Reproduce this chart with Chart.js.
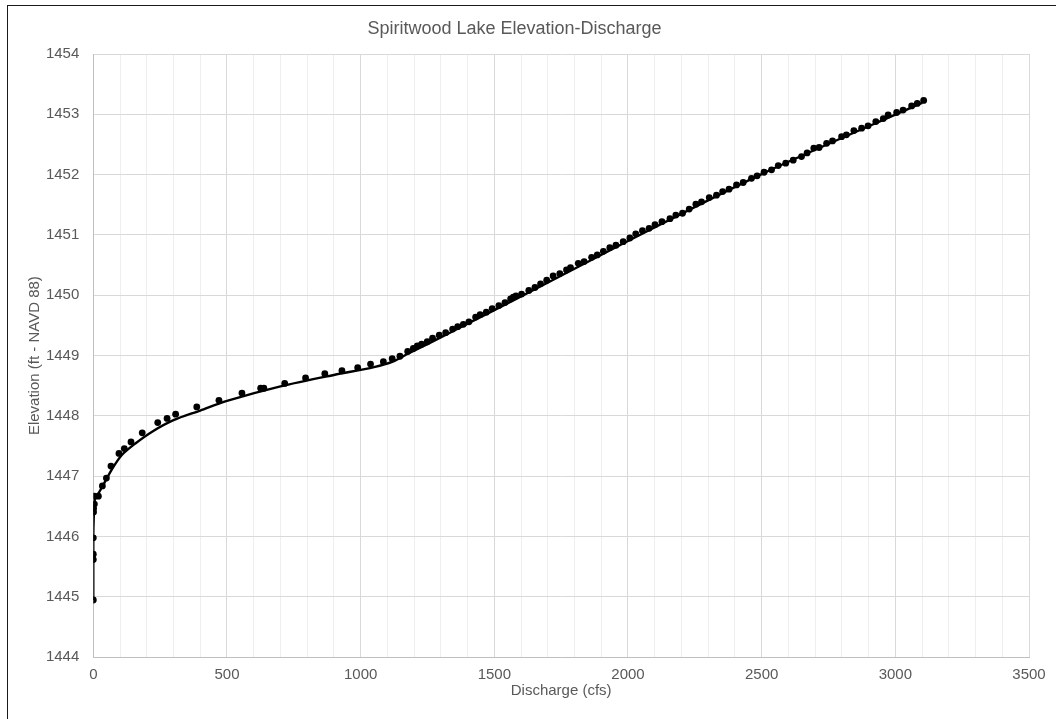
<!DOCTYPE html>
<html>
<head>
<meta charset="utf-8">
<script src="https://cdn.jsdelivr.net/npm/chart.js@4"></script>
<style>
  html, body { margin: 0; padding: 0; background: #fff; }
  #wrap { position: relative; width: 1056px; height: 719px; }
  #frame { position: absolute; left: 7px; top: 5px; right: 0; bottom: 0;
           border-left: 1.5px solid #1a1a1a; border-top: 1.5px solid #1a1a1a; pointer-events: none; }
</style>
</head>
<body>
<div id="wrap">
  <canvas id="grafico" width="1056" height="719"></canvas>
  <div id="frame"></div>
</div>
<script>
// Datos observados (caudal en cfs, elevación en ft)
const caudalObs = [
  0, 0, 0, 0, 1, 1, 4, 4, 19, 34,
  49, 66, 96, 116, 141, 183, 241, 276, 308, 387,
  470, 556, 626, 638, 716, 794, 866, 930, 989, 1037,
  1085, 1118, 1147, 1176, 1197, 1212, 1228, 1249, 1269, 1294,
  1318, 1344, 1363, 1384, 1405, 1430, 1447, 1470, 1492, 1517,
  1540, 1561, 1571, 1581, 1602, 1629, 1652, 1673, 1696, 1720,
  1745, 1770, 1785, 1814, 1836, 1864, 1885, 1908, 1932, 1955,
  1982, 2007, 2029, 2054, 2079, 2101, 2127, 2157, 2179, 2204,
  2229, 2254, 2275, 2304, 2331, 2354, 2378, 2406, 2431, 2462,
  2483, 2509, 2537, 2562, 2590, 2618, 2649, 2670, 2695, 2715,
  2743, 2765, 2799, 2817, 2845, 2874, 2898, 2927, 2955, 2973,
  3005, 3029, 3061, 3082, 3106
];
const elevacionObs = [
  1444.95, 1445.62, 1445.71, 1445.98, 1446.41, 1446.47, 1446.54, 1446.67, 1446.67, 1446.84,
  1446.97, 1447.17, 1447.38, 1447.46, 1447.57, 1447.72, 1447.89, 1447.96, 1448.03, 1448.15,
  1448.26, 1448.38, 1448.46, 1448.46, 1448.54, 1448.63, 1448.70, 1448.75, 1448.80, 1448.86,
  1448.90, 1448.95, 1448.99, 1449.07, 1449.12, 1449.16, 1449.19, 1449.23, 1449.29, 1449.34,
  1449.38, 1449.44, 1449.48, 1449.52, 1449.56, 1449.64, 1449.68, 1449.72, 1449.78, 1449.83,
  1449.88, 1449.94, 1449.97, 1449.99, 1450.02, 1450.08, 1450.13, 1450.19, 1450.25, 1450.32,
  1450.36, 1450.42, 1450.46, 1450.53, 1450.56, 1450.63, 1450.67, 1450.73, 1450.79, 1450.83,
  1450.89, 1450.95, 1451.02, 1451.07, 1451.11, 1451.17, 1451.22, 1451.27, 1451.33, 1451.36,
  1451.43, 1451.51, 1451.55, 1451.62, 1451.66, 1451.72, 1451.76, 1451.83, 1451.87, 1451.94,
  1451.98, 1452.04, 1452.08, 1452.15, 1452.19, 1452.24, 1452.30, 1452.36, 1452.44, 1452.45,
  1452.52, 1452.56, 1452.63, 1452.66, 1452.73, 1452.77, 1452.81, 1452.88, 1452.93, 1452.99,
  1453.03, 1453.07, 1453.14, 1453.18, 1453.23
];

// Curva de ajuste
const caudalCurva = [0, 0, 2, 5, 25, 45, 70, 106, 156, 220, 300, 400, 500, 700, 900, 1050, 1120, 1180, 1250, 1400, 1600, 2000, 2500, 3100];
const elevacionCurva = [1444.95, 1446.0, 1446.35, 1446.6, 1446.76, 1446.92, 1447.12, 1447.35, 1447.54, 1447.74, 1447.93, 1448.09, 1448.25, 1448.49, 1448.68, 1448.81, 1448.9, 1449.04, 1449.19, 1449.53, 1449.98, 1450.9, 1452.01, 1453.19];

const ejeX = { min: 0, max: 3500, paso: 100, etiquetaCada: 500 };
const ejeY = { min: 1444, max: 1454, paso: 1 };

const puntos = caudalObs.map((q, i) => ({ x: q, y: elevacionObs[i] }));
const curva = caudalCurva.map((q, i) => ({ x: q, y: elevacionCurva[i] }));

const fuente = "'Liberation Sans', Arial, sans-serif";
const gris = '#595959';

new Chart(document.getElementById('grafico'), {
  type: 'scatter',
  data: {
    datasets: [
      {
        label: 'Curva',
        data: curva,
        showLine: true,
        borderColor: '#000',
        borderWidth: 2.4,
        pointRadius: 0,
        tension: 0.3,
        fill: false
      },
      {
        label: 'Observado',
        data: puntos,
        backgroundColor: '#000',
        borderColor: '#000',
        borderWidth: 0,
        pointRadius: 3.4
      }
    ]
  },
  options: {
    responsive: false,
    devicePixelRatio: 1,
    animation: false,
    layout: { padding: { left: 0, right: 27, top: 0, bottom: 0 } },
    plugins: {
      legend: { display: false },
      tooltip: { enabled: false },
      title: {
        display: true,
        text: 'Spiritwood Lake Elevation-Discharge',
        color: gris,
        font: { family: fuente, size: 18, weight: 'normal' },
        padding: { top: 18, bottom: 14.4 }
      }
    },
    scales: {
      x: {
        type: 'linear',
        min: ejeX.min,
        max: ejeX.max,
        afterFit: (s) => { s.height = 61.7; },
        border: { color: '#bfbfbf', width: 1 },
        grid: {
          drawTicks: false,
          color: (c) => (c.tick && c.tick.value % ejeX.etiquetaCada === 0) ? '#d9d9d9' : '#eeeeee'
        },
        ticks: {
          stepSize: ejeX.paso,
          autoSkip: false,
          maxRotation: 0,
          padding: 9,
          color: gris,
          font: { family: fuente, size: 15 },
          callback: (v) => (v % ejeX.etiquetaCada === 0) ? String(v) : ''
        },
        title: {
          display: true,
          text: 'Discharge (cfs)',
          color: gris,
          font: { family: fuente, size: 15 },
          padding: { bottom: 19 }
        }
      },
      y: {
        type: 'linear',
        min: ejeY.min,
        max: ejeY.max,
        afterFit: (s) => { s.width = 93.3; },
        border: { color: '#bfbfbf', width: 1 },
        grid: { drawTicks: false, color: '#d9d9d9' },
        ticks: {
          stepSize: ejeY.paso,
          padding: 14,
          color: gris,
          font: { family: fuente, size: 15 },
          callback: (v) => String(v)
        },
        title: {
          display: true,
          text: 'Elevation (ft - NAVD 88)',
          color: gris,
          font: { family: fuente, size: 15 },
          padding: { top: 26 }
        }
      }
    }
  }
});
</script>
</body>
</html>
